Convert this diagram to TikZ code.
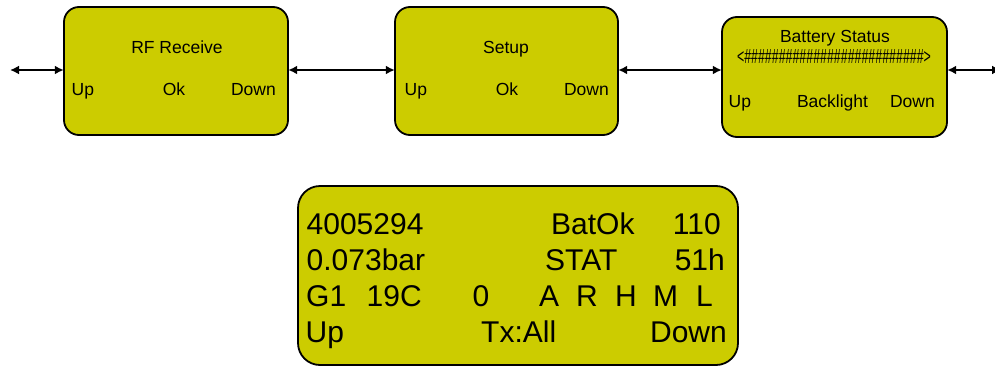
\documentclass[tikz,border=0pt]{standalone}
\usepackage{fontspec}
\usepackage{graphicx}
\setmainfont{Liberation Sans}
\usetikzlibrary{arrows.meta}
\definecolor{lcd}{RGB}{204,204,0}
\tikzset{
  lcdbox/.style={draw=black, line width=1.8pt, fill=lcd, rounded corners=15pt},
  bigbox/.style={draw=black, line width=1.8pt, fill=lcd, rounded corners=22pt},
  small/.style={inner sep=0pt, font=\fontsize{17.5}{20}\selectfont},
  big/.style={inner sep=0pt, font=\fontsize{30}{34}\selectfont},
  link/.style={line width=1.8pt, {Latex[length=9pt,width=9pt]}-{Latex[length=9pt,width=9pt]}}
}
\begin{document}
\begin{tikzpicture}[x=1pt,y=-1pt]
\clip (0,0) rectangle (995,367);
\useasboundingbox (0,0) rectangle (995,367);
% boxes
\draw[lcdbox] (64,7) rectangle (288,135);
\node[minimum width=224pt, minimum height=128pt, inner sep=0pt] (b1) at (176,71) {};
\draw[lcdbox] (395,7) rectangle (618,135);
\node[minimum width=223pt, minimum height=128pt, inner sep=0pt] (b2) at (506.5,71) {};
\draw[lcdbox] (722,17) rectangle (947,137);
\node[minimum width=225pt, minimum height=120pt, inner sep=0pt] (b3) at (834.5,77) {};
\draw[bigbox] (298,186) rectangle (738,365);
\node[minimum width=440pt, minimum height=179pt, inner sep=0pt] (b4) at (518,275.5) {};
% arrow ends
\coordinate (lend) at (10,70);
\coordinate (rend) at (1001,70);
\draw[link] (lend) -- (b1.west |- lend);
\draw[link] (b1.east |- lend) -- (b2.west |- lend);
\draw[link] (b2.east |- lend) -- (b3.west |- lend);
\draw[link] (b3.east |- lend) -- (rend);
% box 1
\node[small, anchor=base] (t1) at (177,53) {RF Receive};
\node[small, anchor=base west] (u1) at (71.5,95) {Up};
\node[small, anchor=base] (o1) at (174,95) {Ok};
\node[small, anchor=base east] (d1) at (276,95) {Down};
% box 2
\node[small, anchor=base] (t2) at (506,53) {Setup};
\node[small, anchor=base west] (u2) at (404.5,95) {Up};
\node[small, anchor=base] (o2) at (507,95) {Ok};
\node[small, anchor=base east] (d2) at (609,95) {Down};
% box 3
\node[small, anchor=base] (t3) at (835,42) {Battery Status};
\node[small, anchor=base] (h3) at (834,63) {\resizebox{194pt}{14pt}{<\#\#\#\#\#\#\#\#\#\#\#\#\#\#\#\#\#\#\#\#\#\#\#\#\#\#>}};
\node[small, anchor=base west] (u3) at (728.5,107) {Up};
\node[small, anchor=base] (k3) at (832.5,107) {Backlight};
\node[small, anchor=base east] (d3) at (935,107) {Down};
% big box
\node[big, anchor=base west] (r1a) at (306.5,234) {4005294};
\node[big, anchor=base west] (r1b) at (551,234) {BatOk};
\node[big, anchor=base east] (r1c) at (721,234) {110};
\node[big, anchor=base west] (r2a) at (306.5,270) {0.073bar};
\node[big, anchor=base west] (r2b) at (545,270) {STAT};
\node[big, anchor=base east] (r2c) at (725,270) {51h};
\node[big, anchor=base west] (r3a) at (306,306) {G1};
\node[big, anchor=base west] (r3b) at (366.5,306) {19C};
\node[big, anchor=base west] (r3c) at (472.5,306) {0};
\node[big, anchor=base west] (r3d) at (539,306) {A};
\node[big, anchor=base west] (r3e) at (576,306) {R};
\node[big, anchor=base west] (r3f) at (615,306) {H};
\node[big, anchor=base west] (r3g) at (653,306) {M};
\node[big, anchor=base west] (r3h) at (696,306) {L};
\node[big, anchor=base west] (r4a) at (305.5,342) {Up};
\node[big, anchor=base west] (r4b) at (481,342) {Tx:All};
\node[big, anchor=base east] (r4c) at (727,342) {Down};
\end{tikzpicture}
\end{document}
